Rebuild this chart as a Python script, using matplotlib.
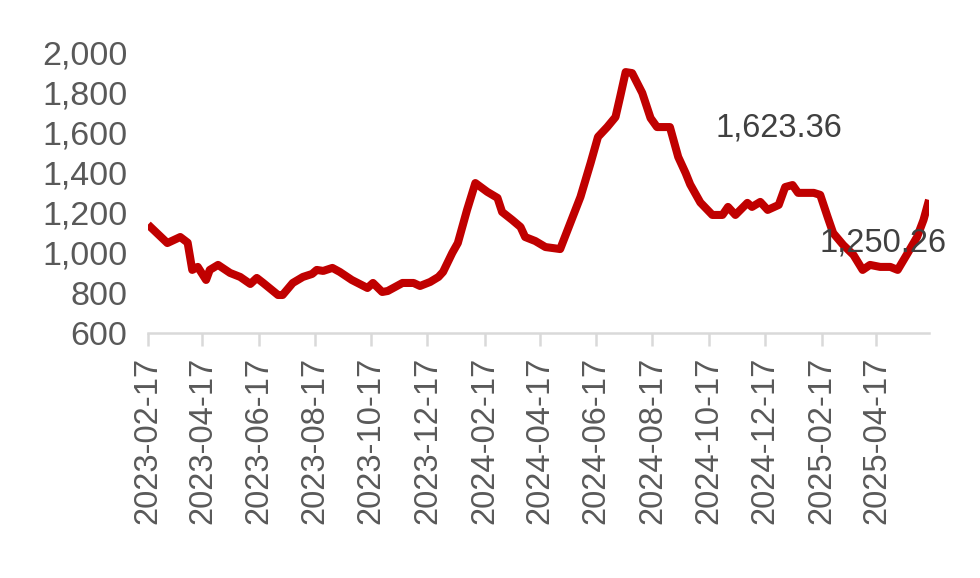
import matplotlib.pyplot as plt
import matplotlib.dates as mdates
import pandas as pd

dates = [
    '2023-02-17', '2023-03-10', '2023-03-24', '2023-04-01', '2023-04-06', '2023-04-12',
    '2023-04-21', '2023-04-25', '2023-05-04', '2023-05-17', '2023-05-28', '2023-06-08',
    '2023-06-15', '2023-06-22', '2023-07-08', '2023-07-13', '2023-07-24', '2023-08-04',
    '2023-08-14', '2023-08-19', '2023-08-26', '2023-09-05', '2023-09-13', '2023-09-26',
    '2023-10-13', '2023-10-19', '2023-10-29', '2023-11-04', '2023-11-20', '2023-12-02',
    '2023-12-09', '2023-12-20', '2023-12-29', '2024-01-03', '2024-01-13', '2024-01-19',
    '2024-01-29', '2024-02-07', '2024-02-20', '2024-03-02', '2024-03-07', '2024-03-18',
    '2024-03-27', '2024-04-01', '2024-04-12', '2024-04-23', '2024-05-09', '2024-05-20',
    '2024-05-31', '2024-06-11', '2024-06-19', '2024-06-29', '2024-07-08', '2024-07-13',
    '2024-07-19', '2024-07-26', '2024-08-06', '2024-08-15', '2024-08-22', '2024-09-05',
    '2024-09-14', '2024-09-22', '2024-09-27', '2024-10-08', '2024-10-21', '2024-11-01',
    '2024-11-07', '2024-11-15', '2024-11-28', '2024-12-03', '2024-12-12', '2024-12-20',
    '2025-01-01', '2025-01-08', '2025-01-16', '2025-01-22', '2025-02-08', '2025-02-15',
    '2025-02-23', '2025-03-01', '2025-03-12', '2025-03-23', '2025-04-02', '2025-04-10',
    '2025-04-21', '2025-05-02', '2025-05-10', '2025-05-21', '2025-05-31', '2025-06-07',
    '2025-06-13',
]
values = [
    1140, 1048, 1078, 1050, 914, 929,
    864, 914, 939, 899, 879, 844,
    874, 849, 789, 789, 849, 879,
    894, 914, 909, 924, 904, 864,
    824, 849, 804, 809, 849, 849,
    834, 854, 879, 904, 999, 1048,
    1213, 1347, 1303, 1273, 1203, 1163,
    1128, 1078, 1058, 1028, 1018, 1148,
    1278, 1447, 1577, 1626, 1676, 1776,
    1900, 1895, 1796, 1671, 1626, 1626,
    1477, 1397, 1340, 1250, 1188, 1188,
    1228, 1188, 1248, 1228, 1253, 1213,
    1238, 1327, 1337, 1298, 1298, 1288,
    1178, 1098, 1038, 989, 914, 939,
    929, 929, 914, 999, 1078, 1163,
    1263,
]
tick_dates = ['2023-02-17', '2023-04-17', '2023-06-17', '2023-08-17', '2023-10-17',
              '2023-12-17', '2024-02-17', '2024-04-17', '2024-06-17', '2024-08-17',
              '2024-10-17', '2024-12-17', '2025-02-17', '2025-04-17']
y_ticks = [600, 800, 1000, 1200, 1400, 1600, 1800, 2000]
labels = [('2025-01-01', 1621, '1,623.36'), ('2025-04-24', 1048, '1,250.26')]

plt.rcParams['font.family'] = ['Liberation Sans', 'DejaVu Sans']
text_color = '#595959'

x = pd.to_datetime(dates)
fig = plt.figure(figsize=(9.8, 5.78), dpi=100)
ax = fig.add_axes([0.151, 0.424, 0.797, 0.486])
ax.plot(x, values, color='#C00000', linewidth=5.8, solid_joinstyle='round',
        solid_capstyle='butt', zorder=3)

ax.set_xlim(x[0], x[-1])
ax.set_ylim(600, 2000)
ax.set_yticks(y_ticks)
ax.set_yticklabels([f'{v:,}' for v in y_ticks])
ax.set_xticks(pd.to_datetime(tick_dates))
ax.xaxis.set_major_formatter(mdates.DateFormatter('%Y-%m-%d'))

for s in ['top', 'right', 'left']:
    ax.spines[s].set_visible(False)
ax.spines['bottom'].set_color('#d9d9d9')
ax.spines['bottom'].set_linewidth(1.8)
ax.tick_params(axis='x', colors='#d9d9d9', length=9, width=1.8, pad=8,
               labelcolor=text_color, labelsize=23.5, labelrotation=90)
ax.tick_params(axis='y', length=0, pad=15, labelcolor=text_color, labelsize=24.5)

for d, v, t in labels:
    ax.text(pd.Timestamp(d), v, t, ha='center', va='center', fontsize=23.5,
            color='#404040', zorder=4)

fig.savefig('out.png', dpi=100)
